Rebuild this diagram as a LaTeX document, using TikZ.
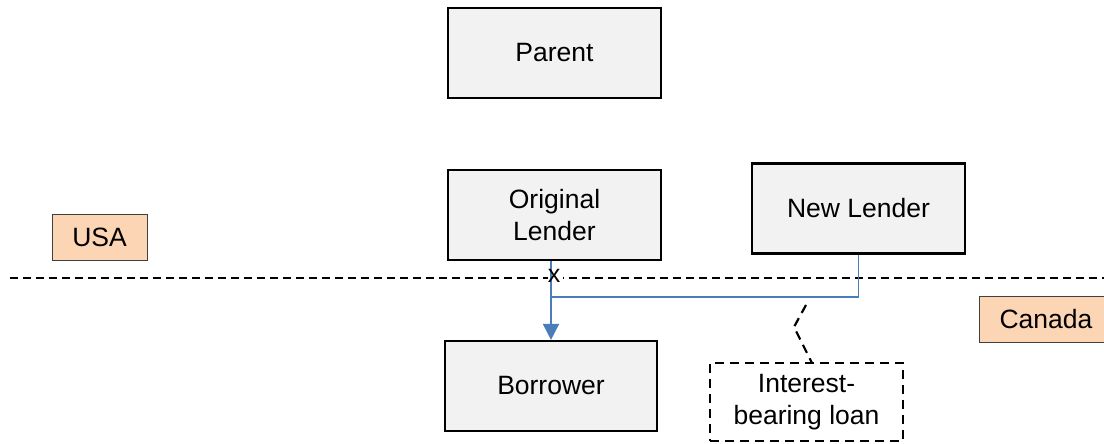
\documentclass[tikz,border=0pt]{standalone}
\usepackage{fontspec}
\setmainfont{Liberation Sans}
\usetikzlibrary{arrows.meta}
\definecolor{boxgray}{HTML}{F2F2F2}
\definecolor{tagorange}{HTML}{FCD5B5}
\definecolor{flowblue}{HTML}{4A7EBB}
\begin{document}
\begin{tikzpicture}[x=1pt,y=-1pt,
  entity/.style={draw=black,line width=2.2pt,fill=boxgray,minimum width=213pt,minimum height=90pt,
    align=center,font=\fontsize{26.5}{32}\selectfont,inner sep=0pt},
  country/.style={draw=black!75,line width=1pt,fill=tagorange,minimum height=46pt,
    font=\fontsize{26.5}{30}\selectfont,inner sep=0pt},
  note/.style={draw=black,line width=2.2pt,dash pattern=on 9pt off 6pt,fill=white,minimum width=193pt,
    minimum height=78pt,align=center,font=\fontsize{26.5}{32}\selectfont,inner sep=0pt},
  border/.style={black,line width=1.6pt,dash pattern=on 8pt off 5pt},
  flow/.style={flowblue,line width=1.8pt}]
\useasboundingbox (0,0) rectangle (1104,444);

% border between the two countries
\coordinate (bl) at (10,278);
\coordinate (br) at (1104,278);
\draw[border] (bl) -- (br);

% entities
\node[entity] (parent) at (554.5,53) {Parent};
\node[entity] (orig) at (554.5,215) {Original\\Lender};
\node[entity] (newl) at (858.5,208.5) {New Lender};
\node[entity,minimum width=212pt] (bor) at (551,386) {Borrower};
\node[note] (loan) at (806.5,402) {Interest-\\bearing loan};

% country tags
\node[country,minimum width=95pt] (usa) at (99.5,237.5) {USA};
\node[country,minimum width=134pt] (can) at (1046,319) {Canada};

% loan flows, crossing the border at the cut mark
\node[fill=white,minimum width=15pt,minimum height=25pt,inner sep=0pt] (cutbg) at (555,273) {};
\coordinate (join) at (551,297);
\draw[flow] (newl.south) |- (join);
\draw[flow,-{Triangle[length=16pt,width=16pt]}] (orig.south -| bor.north) -- (bor.north);
\node[inner sep=0pt,font=\fontsize{25}{25}\selectfont] (cut) at (554,276) {x};

% callout to the loan note
\coordinate (c1) at (806,305);
\coordinate (c2) at (794,327);
\coordinate (c3) at (812,363);
\draw[black,line width=2.2pt,dash pattern=on 9pt off 6pt] (c1) -- (c2) -- (c3);
\end{tikzpicture}
\end{document}
